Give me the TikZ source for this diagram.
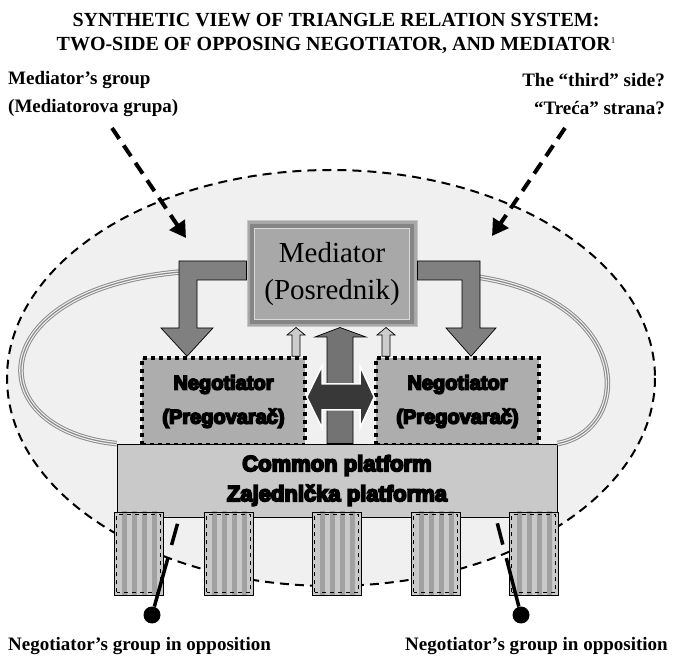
\documentclass[tikz,border=0pt]{standalone}
\usepackage{fontspec}
\setmainfont{Liberation Serif}
\newfontfamily\heavyfont[FakeBold=8]{Liberation Sans Bold}
\usetikzlibrary{positioning, arrows.meta, calc}
\definecolor{ovalgray}{gray}{0.94}
\definecolor{medgray}{gray}{0.66}
\definecolor{medband}{gray}{0.52}
\definecolor{neggray}{gray}{0.68}
\definecolor{platgray}{gray}{0.79}
\definecolor{bargray}{gray}{0.50}
\definecolor{ctrgray}{gray}{0.45}
\definecolor{hgray}{gray}{0.22}
\definecolor{smallgray}{gray}{0.80}
\definecolor{stripegray}{gray}{0.63}
\definecolor{ringgray}{gray}{0.55}
\tikzset{
>={Triangle[length=16pt, width=18pt]}, % solid heads on the dashed pointers
pointer/.style={->, line width=4pt, dash pattern=on 13pt off 8pt}, % thick dashed pointers from the side texts
bigoval/.style={draw, fill=ovalgray, line width=2pt, dash pattern=on 9pt off 6pt}, % the whole system
medbox/.style={draw=gray!45, line width=1pt, fill=medgray, minimum width=170pt, minimum height=106pt, font=\fontsize{29}{37}\selectfont, align=center},
negbox/.style={fill=neggray, draw, line width=3.5pt, dash pattern=on 4pt off 4pt, minimum width=163pt, minimum height=87pt, font=\heavyfont\fontsize{20}{34}\selectfont, align=center},
platbox/.style={draw, line width=0.8pt, fill=platgray, minimum width=440pt, minimum height=73pt, font=\heavyfont\fontsize{22}{30}\selectfont, align=center},
blockarrow/.style={draw, line width=0.7pt}, % outline of the fat arrows
colbox/.style={draw, line width=0.8pt, fill=platgray, minimum width=49pt, minimum height=83pt, inner sep=0pt,
  path picture={\foreach \s in {8,18,28,38} \fill[stripegray] ([xshift=\s pt]path picture bounding box.south west) rectangle ++(5pt,90pt);}},
coldash/.style={line width=1.2pt, dash pattern=on 4pt off 4pt},
opline/.style={line width=3.5pt, dash pattern=on 50pt off 14pt on 22pt off 30pt},
ball/.style={circle, fill, inner sep=0pt, minimum size=17pt},
grptxt/.style={font=\bfseries\fontsize{19}{23}\selectfont, inner sep=0pt},
}
\begin{document}
\begin{tikzpicture}[x=1pt, y=-1pt]
\useasboundingbox (0,0) rectangle (673,660);
\draw[bigoval] (331,378) ellipse [x radius=324, y radius=208];

\node[negbox] (negL) at (223.5,401.5) {Negotiator\\(Pregovarač)};
\node[negbox] (negR) at (457.5,401.5) {Negotiator\\(Pregovarač)};
\node[platbox] (plat) at (337,480.5) {Common platform\\Zajednička platforma};
\node[medbox] (med) at (332,274) {Mediator\\(Posrednik)};
\draw[medband, line width=4pt] ([shift={(5.5pt,5.5pt)}]med.south west) rectangle ([shift={(-5.5pt,-5.5pt)}]med.north east);
\draw[gray!30, line width=0.8pt] ([shift={(8pt,8pt)}]med.south west) rectangle ([shift={(-8pt,-8pt)}]med.north east);

% the ring round the two sides
\foreach \w/\c in {5.5/ringgray, 3.5/ovalgray, 1.2/ringgray}{
  \draw[line width=\w pt, \c] (180,272) .. controls (-20,290) and (-20,430) .. (plat.north west);
  \draw[line width=\w pt, \c] (477,277) .. controls (634,300) and (634,430) .. (plat.north east);
}

% mediator to both sides
\filldraw[blockarrow, fill=bargray] (med.west |- 0,261) -- (179,261) -- (179,328) -- (161,328) -- (187,0 |- negL.north)
  -- (213,328) -- (197,328) -- (197,280) -- (med.west |- 0,280) -- cycle;
\filldraw[blockarrow, fill=bargray] (med.east |- 0,261) -- (480,261) -- (480,328) -- (496,328) -- (471,0 |- negR.north)
  -- (446,328) -- (462,328) -- (462,280) -- (med.east |- 0,280) -- cycle;

% both sides back to the mediator
\foreach \sx/\nb in {296/negL, 386/negR}
  \filldraw[blockarrow, fill=smallgray] (\sx-4,0 |- \nb.north) -- (\sx-4,335) -- (\sx-9,335) -- (\sx,0 |- med.south)
    -- (\sx+9,335) -- (\sx+4,335) -- (\sx+4,0 |- \nb.north) -- cycle;
\filldraw[blockarrow, fill=ctrgray] (327,0 |- plat.north) -- (327,337) -- (315,337) -- (340,0 |- med.south)
  -- (366,337) -- (353,337) -- (353,0 |- plat.north) -- cycle;
\filldraw[fill=hgray, draw=white, line width=1.5pt] (negL.east |- 0,397) -- (322,366) -- (322,384) -- (360,384) -- (360,366)
  -- (negR.west |- 0,397) -- (360,428) -- (360,410) -- (322,410) -- (322,428) -- cycle;

% groups under the platform
\foreach \cx [count=\i] in {138.5,228.5,336.5,435.5,533.5}{
  \node[colbox] (col\i) at (\cx,553.5) {};
  \draw[coldash] ([shift={(3pt,3pt)}]col\i.south west) rectangle ([shift={(-3pt,-3pt)}]col\i.north east);
}
\node[ball] (ballL) at (152,615) {};
\node[ball] (ballR) at (521,615) {};
\coordinate (oppLtop) at (178,522);
\coordinate (oppRtop) at (497,522);
\draw[opline] (ballL) -- (oppLtop);
\draw[opline] (ballR) -- (oppRtop);

\coordinate (mgTail) at (112,128);
\coordinate (mgTip) at (186,238);
\coordinate (tsTail) at (565,128);
\coordinate (tsTip) at (492,236);
\draw[pointer] (mgTail) -- (mgTip);
\draw[pointer] (tsTail) -- (tsTip);

\node[grptxt, align=center, font=\bfseries\fontsize{20}{24}\selectfont] (title) at (336,33) {SYNTHETIC VIEW OF TRIANGLE RELATION SYSTEM:\\TWO-SIDE OF OPPOSING NEGOTIATOR, AND MEDIATOR\raisebox{7pt}{\mdseries\fontsize{9}{9}\selectfont 1}};
\node[grptxt, anchor=west] (mgA) at (8,80) {Mediator’s group};
\node[grptxt, anchor=west] (mgB) at (8,108) {(Mediatorova grupa)};
\node[grptxt, anchor=east] (tsA) at (665,80) {The “third” side?};
\node[grptxt, anchor=east] (tsB) at (665,108) {“Treća” strana?};
\node[grptxt, anchor=west] (oppL) at (8,646) {Negotiator’s group in opposition};
\node[grptxt, anchor=east] (oppR) at (668,646) {Negotiator’s group in opposition};
\end{tikzpicture}
\end{document}
